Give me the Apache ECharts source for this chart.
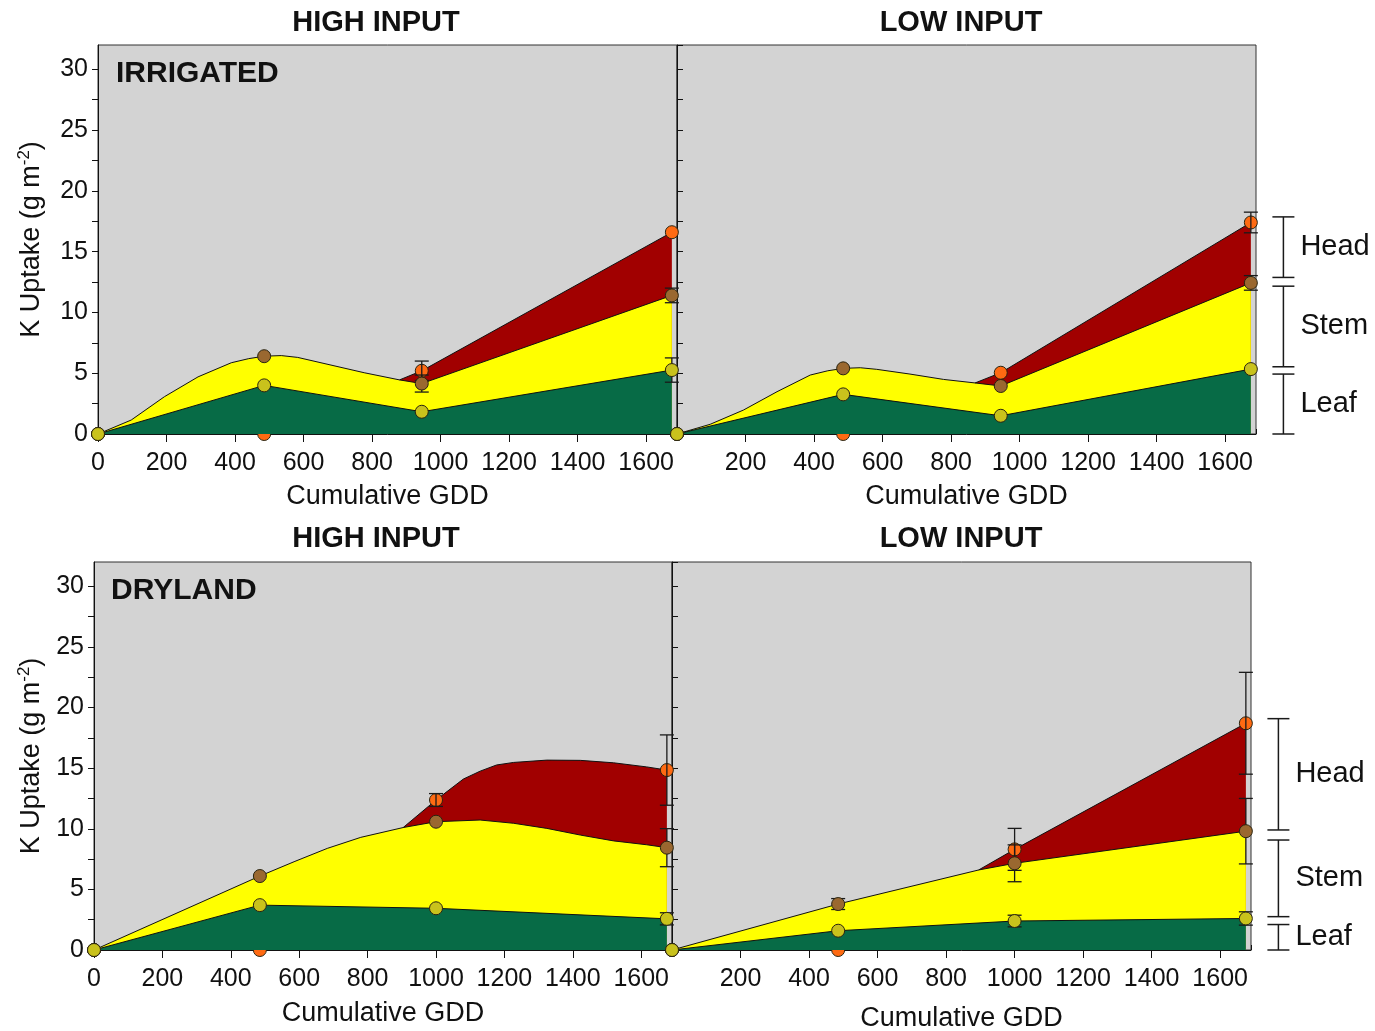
<!DOCTYPE html>
<html>
<head>
<meta charset="utf-8">
<script src="https://cdn.jsdelivr.net/npm/echarts@6/dist/echarts.min.js"></script>
<style>
  html, body { margin: 0; padding: 0; background: #fff; }
  #chart { width: 1375px; height: 1031px; }
</style>
</head>
<body>
<div id="chart"></div>
<script>
// sampling dates (cumulative GDD)
const irrGdd = [0, 485, 945, 1675];
const dryGdd = [0, 485, 1000, 1675];

// K uptake, cumulative (leaf, leaf+stem, leaf+stem+head), g m-2, with error bars
const irrHighLeaf = [0, 4.0, 1.83, 5.26];
const irrHighStem = [0, 6.4, 4.15, 11.4];
const irrHighHead = [0, 0, 5.2, 16.6];
const irrHighLeafSE = [0, 0, 0, 1.0];
const irrHighStemSE = [0, 0, 0.7, 0.6];
const irrHighHeadSE = [0, 0, 0.8, 0];

const irrLowLeaf = [0, 3.26, 1.5, 5.34];
const irrLowStem = [0, 5.4, 3.95, 12.43];
const irrLowHead = [0, 0, 5.04, 17.4];
const irrLowLeafSE = [0, 0, 0, 0];
const irrLowStemSE = [0, 0, 0, 0.6];
const irrLowHeadSE = [0, 0, 0, 0.85];

const dryHighLeaf = [0, 3.7, 3.44, 2.57];
const dryHighStem = [0, 6.1, 10.58, 8.44];
const dryHighHead = [0, 0, 12.37, 14.84];
const dryHighLeafSE = [0, 0, 0, 0.5];
const dryHighStemSE = [0, 0, 0, 1.57];
const dryHighHeadSE = [0, 0, 0.53, 2.9];

const dryLowLeaf = [0, 1.59, 2.39, 2.6];
const dryLowStem = [0, 3.79, 7.15, 9.8];
const dryLowHead = [0, 0, 8.3, 18.7];
const dryLowLeafSE = [0, 0, 0.48, 0.55];
const dryLowStemSE = [0, 0.45, 1.52, 2.7];
const dryLowHeadSE = [0, 0, 1.73, 4.2];

// extra points (stem band top, head band start/top)
const irrHighStemBend = [[97, 1.15], [194, 3.07], [292, 4.7], [389, 5.86], [440, 6.2], [535, 6.45],
  [583, 6.3], [680, 5.67], [777, 5.04], [880, 4.45]];
const irrHighHeadBend = [[880, 4.45]];
const irrLowStemBend = [[97, 0.8], [194, 1.97], [292, 3.48], [389, 4.85], [440, 5.2], [535, 5.45],
  [583, 5.32], [680, 4.93], [778, 4.49], [870, 4.2]];
const irrLowHeadBend = [[870, 4.2]];
const dryHighStemBend = [[585, 7.28], [682, 8.38], [780, 9.29], [904, 10.1], [1129, 10.72],
  [1227, 10.45], [1324, 10.03], [1422, 9.48], [1519, 9.0], [1616, 8.68]];
const dryHighHeadBend = [[904, 10.1], [1080, 14.1], [1129, 14.75], [1177, 15.26], [1227, 15.47],
  [1324, 15.66], [1422, 15.64], [1519, 15.44], [1616, 15.1]];
const dryLowStemBend = [[895, 6.6]];
const dryLowHeadBend = [[895, 6.6]];

// organ brackets on the right
const organNames = ['Head', 'Stem', 'Leaf'];
const irrBracketLow = [12.88, 5.53, 0];
const irrBracketHigh = [17.86, 12.16, 4.93];
const dryBracketLow = [9.9, 2.75, 0];
const dryBracketHigh = [19.08, 9.07, 2.1];

const INK = '#111';
const GREY = '#d3d3d3';
const GREEN = '#076b46';
const YELLOW = '#ffff00';
const RED = '#a10000';
const LEAF_DOT = '#c9c21c';
const STEM_DOT = '#9a6830';
const HEAD_DOT = '#ff6a12';
const SANS = '"Liberation Sans", Arial, sans-serif';

const panels = [
  { gdd: irrGdd, leaf: irrHighLeaf, stem: irrHighStem, head: irrHighHead,
    se: [irrHighLeafSE, irrHighStemSE, irrHighHeadSE], stemBend: irrHighStemBend, headBend: irrHighHeadBend,
    rect: [98, 45, 579, 389], first: true, xGap: 49, yGap: 50 },
  { gdd: irrGdd, leaf: irrLowLeaf, stem: irrLowStem, head: irrLowHead,
    se: [irrLowLeafSE, irrLowStemSE, irrLowHeadSE], stemBend: irrLowStemBend, headBend: irrLowHeadBend,
    rect: [677, 45, 579, 389], first: false, xGap: 49,
    bracket: [irrBracketLow, irrBracketHigh] },
  { gdd: dryGdd, leaf: dryHighLeaf, stem: dryHighStem, head: dryHighHead,
    se: [dryHighLeafSE, dryHighStemSE, dryHighHeadSE], stemBend: dryHighStemBend, headBend: dryHighHeadBend,
    rect: [94, 562, 578, 388], first: true, xGap: 50, yGap: 46 },
  { gdd: dryGdd, leaf: dryLowLeaf, stem: dryLowStem, head: dryLowHead,
    se: [dryLowLeafSE, dryLowStemSE, dryLowHeadSE], stemBend: dryLowStemBend, headBend: dryLowHeadBend,
    rect: [672, 562, 579, 388], first: false, xGap: 55,
    bracket: [dryBracketLow, dryBracketHigh] }
];

const byX = (a, b) => a[0] - b[0];
const pairs = (xs, ys) => xs.map((x, i) => [x, ys[i]]);

// z layers: bands behind, head dots, leaf band (hides zero heads), error bars, stem/leaf dots
function areaSeries(i, data, color, z) {
  return {
    type: 'line', xAxisIndex: 2 * i, yAxisIndex: i, data: data, z: z,
    smooth: false, symbol: 'none', silent: true,
    lineStyle: { color: INK, width: 1 },
    areaStyle: { color: color, opacity: 1 }
  };
}

function dotSeries(i, data, color, z) {
  return {
    type: 'scatter', xAxisIndex: 2 * i, yAxisIndex: i, data: data, z: z,
    symbolSize: 13, clip: false,
    itemStyle: { color: color, borderColor: '#2a2410', borderWidth: 1, opacity: 1 }
  };
}

function renderErr(params, api) {
  const x = api.value(0), y = api.value(1), e = api.value(2);
  const hi = api.coord([x, y + e]);
  const lo = api.coord([x, y - e]);
  const w = 7;
  const st = { stroke: '#1a1a1a', lineWidth: 1.3 };
  return {
    type: 'group',
    children: [
      { type: 'line', shape: { x1: hi[0], y1: hi[1], x2: lo[0], y2: lo[1] }, style: st },
      { type: 'line', shape: { x1: hi[0] - w, y1: hi[1], x2: hi[0] + w, y2: hi[1] }, style: st },
      { type: 'line', shape: { x1: lo[0] - w, y1: lo[1], x2: lo[0] + w, y2: lo[1] }, style: st }
    ]
  };
}

function renderBracket(params, api) {
  const x = api.value(0);
  const top = api.coord([x, api.value(2)]);
  const bot = api.coord([x, api.value(1)]);
  const w = 11;
  const st = { stroke: '#1a1a1a', lineWidth: 1.5 };
  return {
    type: 'group',
    children: [
      { type: 'line', shape: { x1: top[0], y1: top[1], x2: bot[0], y2: bot[1] }, style: st },
      { type: 'line', shape: { x1: top[0] - w, y1: top[1], x2: top[0] + w, y2: top[1] }, style: st },
      { type: 'line', shape: { x1: bot[0] - w, y1: bot[1], x2: bot[0] + w, y2: bot[1] }, style: st },
      { type: 'text', x: top[0] + 17, y: (top[1] + bot[1]) / 2,
        style: { text: organNames[params.dataIndex], font: '29px ' + SANS, fill: INK,
                 align: 'left', verticalAlign: 'middle' } }
    ]
  };
}

const grid = [], xAxis = [], yAxis = [], series = [];

panels.forEach((p, i) => {
  grid.push({
    left: p.rect[0], top: p.rect[1], width: p.rect[2], height: p.rect[3],
    show: true, backgroundColor: GREY, borderColor: '#333', borderWidth: 1,
    outerBoundsMode: 'none', containLabel: false
  });
  xAxis.push({
    type: 'value', gridIndex: i, min: 0, max: 1690, interval: 200,
    name: 'Cumulative GDD', nameLocation: 'middle', nameGap: p.xGap,
    nameTextStyle: { fontFamily: SANS, fontSize: 27, color: INK },
    axisLine: { show: true, onZero: false, lineStyle: { color: INK, width: 1 } },
    axisTick: { show: true, length: 8, lineStyle: { color: INK, width: 1 } },
    axisLabel: { fontFamily: SANS, fontSize: 25, color: INK, margin: 17,
                 showMinLabel: p.first, showMaxLabel: false, formatter: v => String(v) },
    splitLine: { show: false }
  });
  xAxis.push({
    type: 'value', gridIndex: i, min: 0, max: 1690, interval: 100,
    axisLine: { show: false },
    axisTick: { show: true, length: 5, lineStyle: { color: INK, width: 1 } },
    axisLabel: { show: false }, splitLine: { show: false }
  });
  yAxis.push({
    type: 'value', gridIndex: i, min: 0, max: 32, interval: 2.5,
    name: p.first ? '{b|K Uptake (g m}{s|-2}{b|)}' : '',
    nameLocation: 'middle', nameRotate: 90, nameGap: p.yGap || 0,
    nameTextStyle: {
      rich: {
        b: { fontFamily: SANS, fontSize: 27, color: INK, lineHeight: 32 },
        s: { fontFamily: SANS, fontSize: 17, color: INK, lineHeight: 18, verticalAlign: 'top' }
      }
    },
    axisLine: { show: true, onZero: false, lineStyle: { color: INK, width: 1 } },
    axisTick: { show: true, inside: !p.first, length: 6, lineStyle: { color: INK, width: 1 } },
    axisLabel: { show: p.first, fontFamily: SANS, fontSize: 25, color: INK, margin: 10,
                 showMaxLabel: false, formatter: v => (v % 5 === 0 ? String(v) : '') },
    splitLine: { show: false }
  });

  const stemEdge = pairs(p.gdd, p.stem).concat(p.stemBend).sort(byX);
  const start = p.headBend[0][0];
  const headEdge = p.headBend.concat(pairs(p.gdd, p.head).filter(d => d[0] > start)).sort(byX);

  const errs = [];
  [p.leaf, p.stem, p.head].forEach((vals, k) => {
    p.gdd.forEach((x, j) => {
      if (p.se[k][j] > 0) errs.push([x, vals[j], p.se[k][j]]);
    });
  });

  series.push(areaSeries(i, headEdge, RED, 1));
  series.push(areaSeries(i, stemEdge, YELLOW, 1));
  series.push(dotSeries(i, pairs(p.gdd, p.head), HEAD_DOT, 2));
  series.push(areaSeries(i, pairs(p.gdd, p.leaf), GREEN, 3));
  series.push({
    type: 'custom', xAxisIndex: 2 * i, yAxisIndex: i, data: errs, z: 4,
    renderItem: renderErr, clip: false, silent: true
  });
  series.push(dotSeries(i, pairs(p.gdd, p.stem), STEM_DOT, 5));
  series.push(dotSeries(i, pairs(p.gdd, p.leaf), LEAF_DOT, 5));

  if (p.bracket) {
    series.push({
      type: 'custom', xAxisIndex: 2 * i, yAxisIndex: i, z: 5,
      data: p.bracket[0].map((lo, k) => [1770, lo, p.bracket[1][k]]),
      renderItem: renderBracket, clip: false, silent: true
    });
  }
});

const titleFont = 'bold 29px ' + SANS;
const tagFont = 'bold 30px ' + SANS;
const text = (x, y, t, font, align) => ({
  type: 'text', x: x, y: y, silent: true,
  style: { text: t, font: font, fill: INK, align: align, verticalAlign: 'middle' }
});

const chart = echarts.init(document.getElementById('chart'), null, { renderer: 'canvas' });
chart.setOption({
  animation: false,
  backgroundColor: '#fff',
  grid: grid,
  xAxis: xAxis,
  yAxis: yAxis,
  series: series,
  graphic: [
    text(376, 23, 'HIGH INPUT', titleFont, 'center'),
    text(961, 23, 'LOW INPUT', titleFont, 'center'),
    text(376, 539, 'HIGH INPUT', titleFont, 'center'),
    text(961, 539, 'LOW INPUT', titleFont, 'center'),
    text(116, 74, 'IRRIGATED', tagFont, 'left'),
    text(111, 591, 'DRYLAND', tagFont, 'left')
  ]
});
</script>
</body>
</html>
